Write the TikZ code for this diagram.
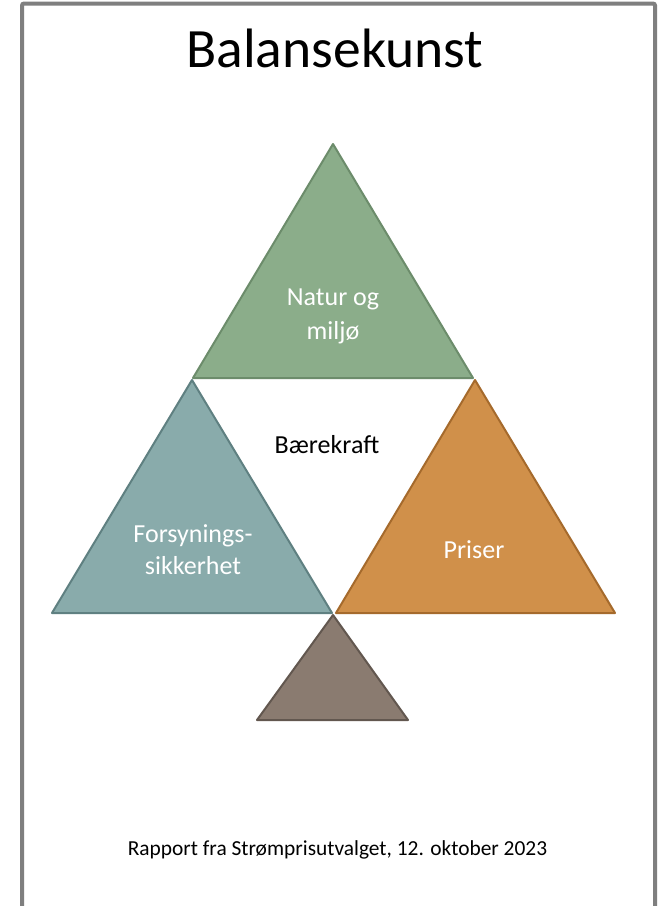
\documentclass[tikz,border=0pt]{standalone}
\usepackage{fontspec}
\setmainfont{Carlito}
\definecolor{frame}{HTML}{7F7F7F}
\definecolor{gfill}{HTML}{8BAD8A}
\definecolor{gline}{HTML}{6C8C6B}
\definecolor{tfill}{HTML}{89ABAB}
\definecolor{tline}{HTML}{5F8081}
\definecolor{ofill}{HTML}{D0904A}
\definecolor{oline}{HTML}{A56A2C}
\definecolor{bfill}{HTML}{8A7B70}
\definecolor{bline}{HTML}{62574F}
\begin{document}
\begin{tikzpicture}[x=1pt,y=-1pt,
  tri/.style={line width=2pt, line join=round},
  lab/.style={anchor=base, inner sep=0pt, text=white, font=\fontsize{26}{30}\selectfont},
]
\useasboundingbox (0,0) rectangle (662,906);
\fill[white] (0,0) rectangle (662,906);
\draw[frame, line width=4pt, rounded corners=2pt] (22,3.5) rectangle (655,930);
% title
\node[anchor=base, inner sep=0pt, font=\fontsize{55.5}{60}\selectfont] (title) at (335,67) {Balansekunst};
% triangles
\coordinate (gA) at (333,144); \coordinate (gL) at (193,378); \coordinate (gR) at (473,378);
\coordinate (tA) at (192,380); \coordinate (tL) at (52,613); \coordinate (tR) at (332,613);
\coordinate (oA) at (475,380); \coordinate (oL) at (336,613); \coordinate (oR) at (615,613);
\coordinate (bA) at (333,615); \coordinate (bL) at (257,720); \coordinate (bR) at (408,720);
\draw[tri, draw=gline, fill=gfill] (gA) -- (gL) -- (gR) -- cycle;
\draw[tri, draw=tline, fill=tfill] (tA) -- (tL) -- (tR) -- cycle;
\draw[tri, draw=oline, fill=ofill] (oA) -- (oL) -- (oR) -- cycle;
\draw[tri, draw=bline, fill=bfill] (bA) -- (bL) -- (bR) -- cycle;
% labels
\node[lab] (natur1) at (333,305) {Natur og};
\node[lab] (natur2) at (333,339) {miljø};
\node[lab, text=black] (baere) at (327,453) {Bærekraft};
\node[lab] (fors1) at (193,542) {Forsynings-};
\node[lab] (fors2) at (193,574) {sikkerhet};
\node[lab] (priser) at (474,558) {Priser};
\node[anchor=base, inner sep=0pt, font=\fontsize{21.4}{24}\selectfont] (rapport) at (337.5,855) {Rapport fra Strømprisutvalget, 12. oktober 2023};
\end{tikzpicture}
\end{document}
